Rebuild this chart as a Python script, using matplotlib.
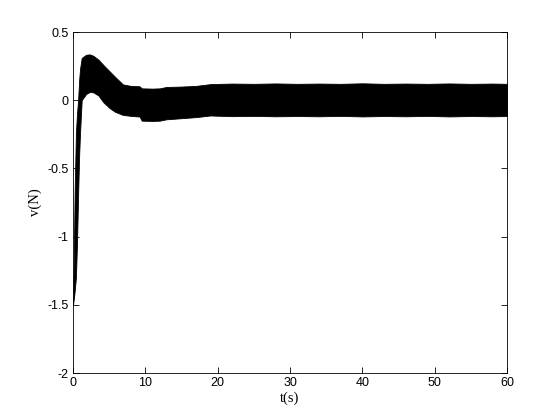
import matplotlib
matplotlib.use('Agg')
import matplotlib.pyplot as plt
import numpy as np

# envelope of the fast oscillation
t = [0, 0.12, 0.23, 0.4, 0.55, 0.7, 0.85, 0.97, 1.2, 1.8, 2.3, 2.8, 3.5, 4.2, 5.0, 5.8,
     6.9, 8.0, 9.2, 9.5, 11.0, 12.0, 12.9, 15.0, 17.0, 19.0, 22.0, 25.0, 28.0, 31.0,
     34.0, 37.0, 40.0, 43.0, 46.0, 49.0, 52.0, 55.0, 58.0, 60.0]
upper = [-1.5, -1.1, -0.66, -0.24, -0.1, 0.0, 0.15, 0.23, 0.31, 0.333, 0.336, 0.326, 0.298,
         0.258, 0.215, 0.172, 0.116, 0.105, 0.102, 0.087, 0.085, 0.087, 0.097, 0.1, 0.105,
         0.118, 0.122, 0.12, 0.123, 0.12, 0.122, 0.12, 0.124, 0.12, 0.122, 0.12, 0.123,
         0.12, 0.122, 0.12]
lower = [-1.5, -1.45, -1.4, -1.3, -1.05, -0.7, -0.4, -0.24, 0.0, 0.045, 0.06, 0.058, 0.035,
         -0.015, -0.055, -0.085, -0.108, -0.115, -0.12, -0.15, -0.152, -0.15, -0.14,
         -0.132, -0.124, -0.112, -0.117, -0.115, -0.118, -0.116, -0.118, -0.115, -0.119,
         -0.116, -0.118, -0.115, -0.119, -0.116, -0.118, -0.116]

plt.figure(figsize=(5.6, 4.2), dpi=100)
ax = plt.axes([0.1304, 0.1119, 0.775, 0.8119])
ax.fill_between(t, lower, upper, color='black', lw=0.6)

ax.set_xlim(0, 60)
ax.set_ylim(-2, 0.5)
ax.set_xticks(np.arange(0, 61, 10))
ax.set_yticks([-2, -1.5, -1, -0.5, 0, 0.5])
ax.set_yticklabels(['-2', '-1.5', '-1', '-0.5', '0', '0.5'])
ax.tick_params(direction='in', top=True, right=True, length=4, width=0.6,
               labelsize=9, pad=3)
for lab in ax.get_xticklabels() + ax.get_yticklabels():
    lab.set_family('Liberation Sans')
for s in ax.spines.values():
    s.set_linewidth(0.6)

ax.set_xlabel('t(s)', family='Liberation Serif', fontsize=10.5, labelpad=2)
ax.set_ylabel('v(N)', family='Liberation Serif', fontsize=10.5, labelpad=4)

plt.savefig('out.png', dpi=100)
